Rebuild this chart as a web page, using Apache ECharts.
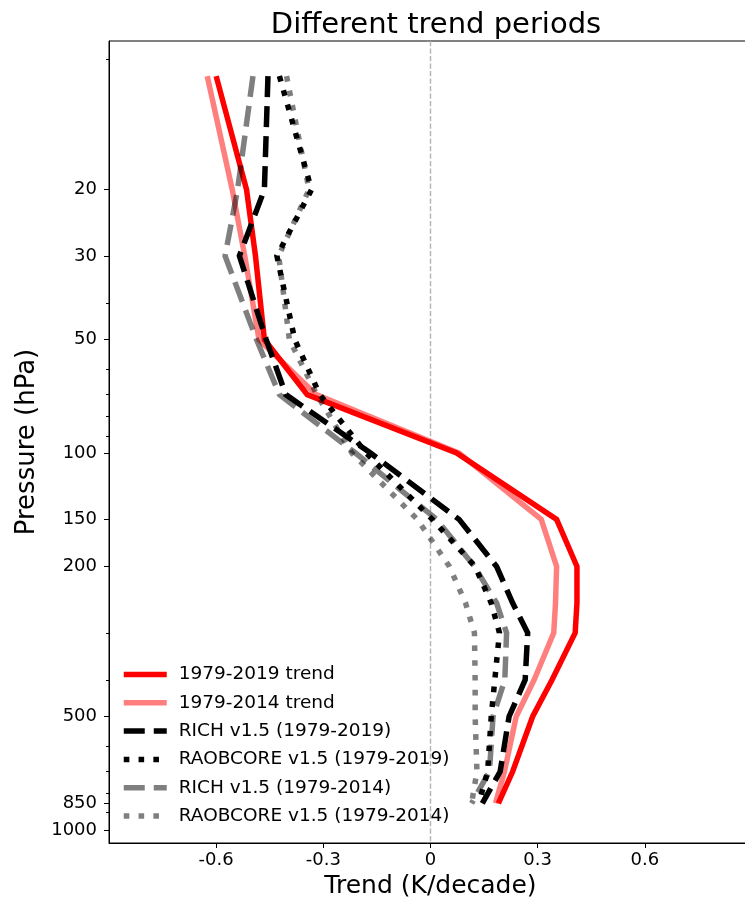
<!DOCTYPE html>
<html>
<head>
<meta charset="utf-8">
<script src="https://cdn.jsdelivr.net/npm/echarts@6/dist/echarts.min.js"></script>
<style>
html,body{margin:0;padding:0;background:#fff;}
#chart{width:745px;height:906px;}
</style>
</head>
<body>
<div id="chart"></div>
<script>
// Pressure levels (hPa)
const pressure = [10, 20, 30, 50, 70, 100, 150, 200, 250, 300, 400, 500, 700, 850];
// Trends (K/decade)
const trend1979_2019 = [-0.600, -0.515, -0.490, -0.465, -0.345, 0.073, 0.353, 0.410, 0.410, 0.405, 0.340, 0.286, 0.230, 0.190];
const trend1979_2014 = [-0.625, -0.555, -0.520, -0.480, -0.320, 0.080, 0.310, 0.353, 0.350, 0.345, 0.290, 0.240, 0.207, 0.182];
const rich1979_2019 = [-0.455, -0.465, -0.535, -0.460, -0.405, -0.168, 0.080, 0.185, 0.230, 0.272, 0.265, 0.220, 0.195, 0.145];
const raob1979_2019 = [-0.423, -0.333, -0.430, -0.380, -0.310, -0.180, 0.005, 0.125, 0.170, 0.193, 0.180, 0.170, 0.160, 0.135];
const rich1979_2014 = [-0.497, -0.540, -0.575, -0.487, -0.423, -0.210, 0.017, 0.123, 0.185, 0.213, 0.208, 0.175, 0.165, 0.115];
const raob1979_2014 = [-0.403, -0.340, -0.425, -0.395, -0.318, -0.220, -0.037, 0.053, 0.098, 0.123, 0.125, 0.125, 0.130, 0.115];

const seriesNames = ['1979-2019 trend', '1979-2014 trend', 'RICH v1.5 (1979-2019)', 'RAOBCORE v1.5 (1979-2019)', 'RICH v1.5 (1979-2014)', 'RAOBCORE v1.5 (1979-2014)'];
const yTickLabels = [20, 30, 50, 100, 150, 200, 500, 850, 1000];
const yMinorTicks = [9, 40, 60, 70, 80, 90, 300, 400, 600, 700, 800, 900];
const xTickLabels = [-0.6, -0.3, 0, 0.3, 0.6];
// axis limits
const xRange = [-0.9, 0.9];
const yRange = [8.07, 1083];

const FONT = 'DejaVu Sans';
const toPairs = vals => pressure.map((p, i) => [vals[i], p]);

const styles = [
  {color: '#ff0000', type: 'solid'},
  {color: 'rgba(255,0,0,0.5)', type: 'solid'},
  {color: '#000000', type: [21, 9]},
  {color: '#000000', type: [5.6, 9.2]},
  {color: 'rgba(0,0,0,0.5)', type: [21, 9]},
  {color: 'rgba(0,0,0,0.5)', type: [5.6, 9.2]}
];
const allVals = [trend1979_2019, trend1979_2014, rich1979_2019, raob1979_2019, rich1979_2014, raob1979_2014];

const series = allVals.map((vals, i) => ({
  name: seriesNames[i],
  type: 'line',
  data: toPairs(vals),
  showSymbol: false,
  symbol: 'none',
  z: 3,
  animation: false,
  color: styles[i].color,
  itemStyle: {color: styles[i].color},
  lineStyle: {color: styles[i].color, width: 5.5, type: styles[i].type, cap: 'butt', join: 'miter'}
}));

// vertical zero reference line spanning the axes
series.unshift({
  name: 'zero',
  type: 'line',
  data: [[0, yRange[0]], [0, yRange[1]]],
  z: 1,
  silent: true,
  showSymbol: false,
  symbol: 'none',
  animation: false,
  lineStyle: {color: '#b3b3b3', width: 1.4, type: [5.2, 2.3]}
});

const chart = echarts.init(document.getElementById('chart'), null, {renderer: 'canvas'});
chart.setOption({
  animation: false,
  backgroundColor: '#ffffff',
  title: {
    text: 'Different trend periods',
    left: 431, top: 6, textAlign: 'center',
    textStyle: {fontFamily: FONT, fontSize: 29, fontWeight: 'normal', color: '#000'}
  },
  grid: {left: 109, width: 643, top: 41, height: 802, outerBoundsMode: 'none', containLabel: false,
    show: true, borderColor: '#000', borderWidth: 1, backgroundColor: 'transparent'},
  legend: {
    data: seriesNames,
    orient: 'vertical',
    left: 116, top: 659.5,
    itemWidth: 43, itemHeight: 20, itemGap: 8.3,
    itemStyle: {opacity: 0, borderWidth: 0},
    lineStyle: {width: 5.5},
    textStyle: {fontFamily: FONT, fontSize: 18.5, color: '#000', lineHeight: 20, padding: [0, 0, 0, 7]}
  },
  xAxis: {
    type: 'value',
    min: xRange[0], max: xRange[1],
    name: 'Trend (K/decade)',
    nameLocation: 'middle', nameGap: 30,
    nameTextStyle: {fontFamily: FONT, fontSize: 25, color: '#000'},
    axisLine: {show: true, onZero: false, lineStyle: {color: '#000', width: 1}},
    axisTick: {show: true, length: 5, inside: false, customValues: xTickLabels, lineStyle: {color: '#000'}},
    axisLabel: {show: true, customValues: xTickLabels, fontFamily: FONT, fontSize: 18, color: '#000', margin: 8,
      formatter: v => (Math.abs(v) < 1e-9 ? '0' : String(Math.round(v * 10) / 10))},
    splitLine: {show: false}
  },
  yAxis: [{
    type: 'log', logBase: 10,
    inverse: true,
    min: yRange[0], max: yRange[1],
    name: 'Pressure (hPa)',
    nameLocation: 'middle', nameGap: 61, nameRotate: 90,
    nameTextStyle: {fontFamily: FONT, fontSize: 26, color: '#000'},
    axisLine: {show: true, onZero: false, lineStyle: {color: '#000', width: 1}},
    axisTick: {show: true, length: 5, customValues: yTickLabels, lineStyle: {color: '#000'}},
    axisLabel: {show: true, customValues: yTickLabels, fontFamily: FONT, fontSize: 18, color: '#000', margin: 12,
      formatter: v => String(Math.round(v))},
    splitLine: {show: false}
  }, {
    type: 'log', logBase: 10,
    inverse: true,
    position: 'left', offset: 0,
    min: yRange[0], max: yRange[1],
    axisLine: {show: false, onZero: false},
    axisTick: {show: true, length: 3, customValues: yMinorTicks, lineStyle: {color: '#000'}},
    axisLabel: {show: false},
    splitLine: {show: false}
  }],
  series: series
});
</script>
</body>
</html>
